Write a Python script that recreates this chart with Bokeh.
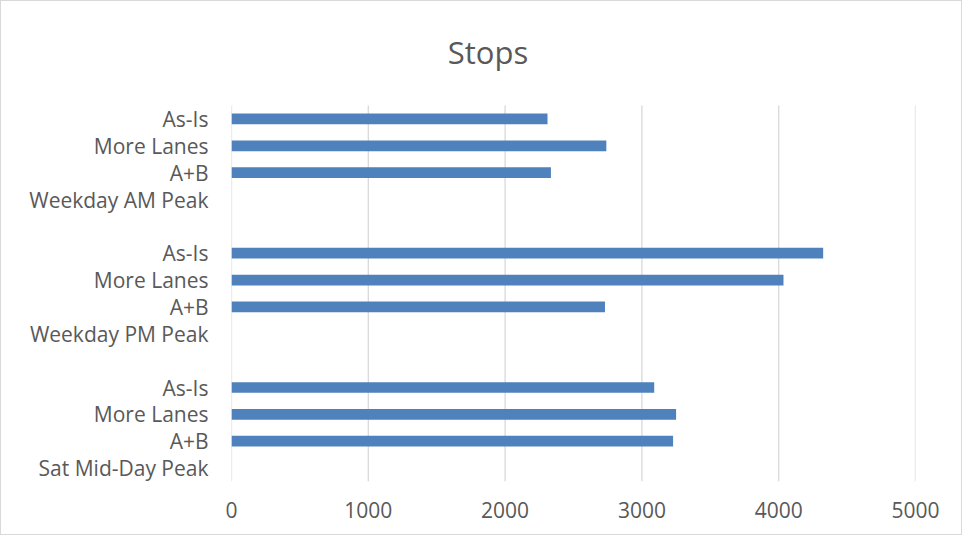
from bokeh.plotting import figure
from bokeh.models import ColumnDataSource, FixedTicker, Label
from bokeh.embed import file_html
from bokeh.resources import INLINE

# ---- data ----
title_text = "Stops"
periods = ["Weekday AM Peak", "Weekday PM Peak", "Sat Mid-Day Peak"]
scenarios = ["As-Is", "More Lanes", "A+B"]
am_values = [2310, 2740, 2335]   # As-Is, More Lanes, A+B
pm_values = [4325, 4035, 2730]
sat_values = [3090, 3250, 3228]
x_ticks = [0, 1000, 2000, 3000, 4000, 5000]

series = [am_values, pm_values, sat_values]

# ---- build category rows (top to bottom as in Excel) ----
rows = []          # list of (label, value or None)
for i, per in enumerate(periods):
    for s, v in zip(scenarios, series[i]):
        rows.append((s, v))
    rows.append((per, None))
    if i < len(periods) - 1:
        rows.append(("", None))

n = len(rows)
ys, vals, labels_over = [], [], {}
for k, (lab, v) in enumerate(rows):
    y = n - 1 - k
    labels_over[y] = lab
    if v is not None:
        ys.append(y)
        vals.append(v)

src = ColumnDataSource(dict(y=ys, right=vals))

FONT = "Open Sans"
TXT = "#595959"
GRID = "#D9D9D9"

# layout in pixels: plot rows occupy 104..480, title area above it
W, H = 962, 535
top_px, bottom_px = 104, 480
row_px = (bottom_px - top_px) / n
extra_rows = top_px / row_px            # room above the rows for the title

p = figure(width=W, height=H, output_backend="svg", toolbar_location=None, title=None,
           x_range=(0, 5000), y_range=(-0.5, n - 0.5 + extra_rows),
           min_border_left=230, min_border_right=48, min_border_top=0,
           min_border_bottom=H - bottom_px)

# vertical gridlines limited to the category area
p.segment(x0=x_ticks, x1=x_ticks, y0=[-0.5] * len(x_ticks), y1=[n - 0.5] * len(x_ticks),
          line_color=GRID, line_width=1.3)

p.hbar(y="y", right="right", left=0, height=0.4, source=src,
       fill_color="#4F81BD", line_color=None)

# chart title, centred over the whole chart area
title_y = n - 0.5 + (top_px - 50) / row_px
p.add_layout(Label(x=1875, y=title_y, text=title_text,
                   text_font=FONT, text_font_size="31px", text_color=TXT,
                   text_align="center", text_baseline="middle"))

p.xaxis.ticker = FixedTicker(ticks=x_ticks)
p.yaxis.ticker = FixedTicker(ticks=list(labels_over.keys()))
p.yaxis.major_label_overrides = {int(k): v for k, v in labels_over.items()}

for ax in (p.xaxis, p.yaxis):
    ax.axis_line_color = None
    ax.major_tick_line_color = None
    ax.minor_tick_line_color = None
    ax.major_label_text_font = FONT
    ax.major_label_text_font_size = "21px"
    ax.major_label_text_color = TXT
p.xaxis.major_label_standoff = 14
p.yaxis.major_label_standoff = 17

p.xgrid.grid_line_color = None
p.ygrid.grid_line_color = None
p.outline_line_color = None
p.background_fill_color = "white"
p.border_fill_color = "white"
p.styles = {"border": "1.5px solid #D9D9D9"}

open("out.html", "w").write(file_html(p, INLINE))
